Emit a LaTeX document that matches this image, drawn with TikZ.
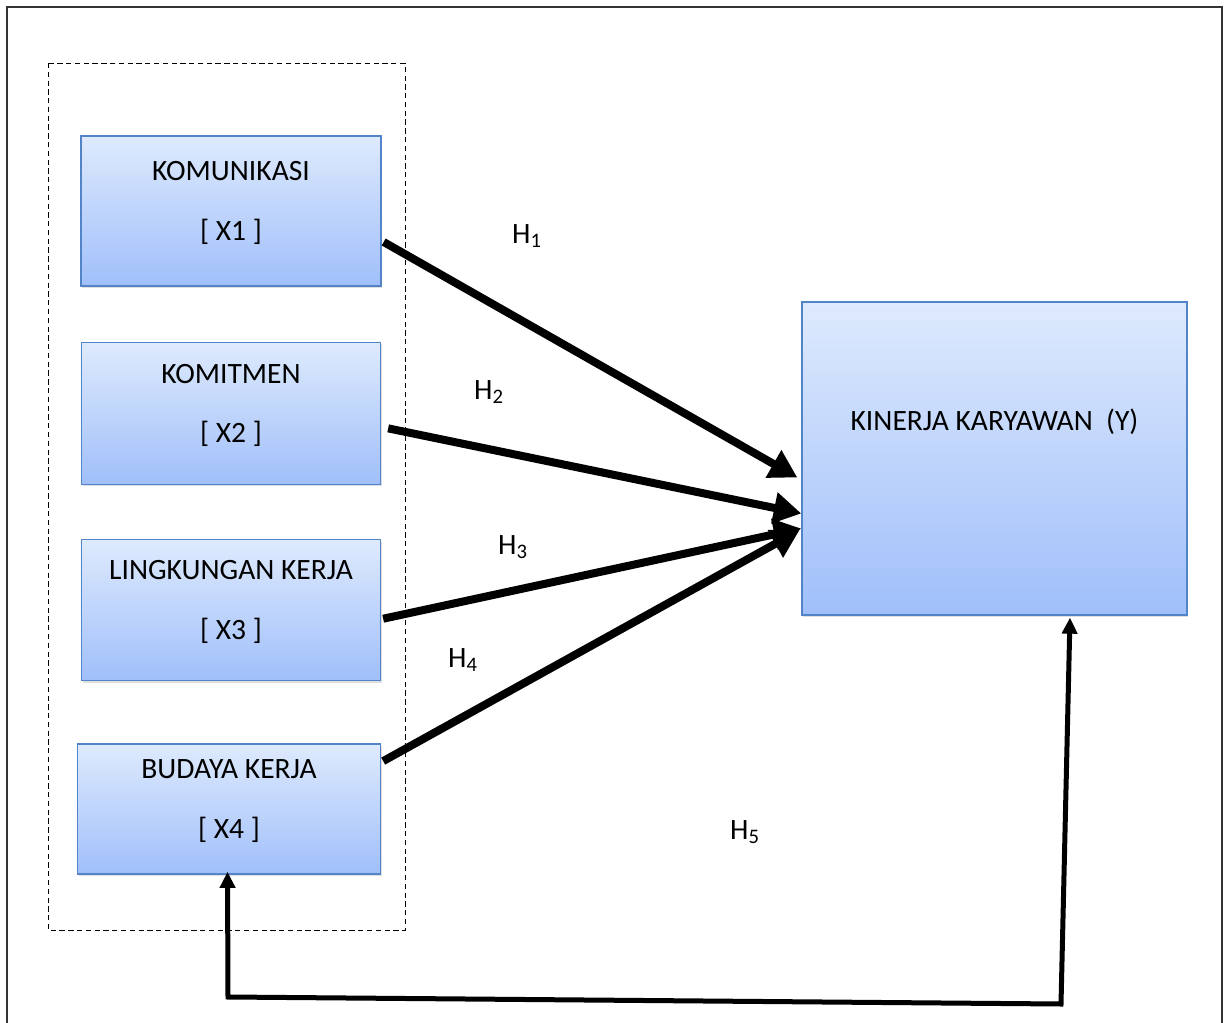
\documentclass[tikz,border=0pt]{standalone}
\usepackage{fontspec}
\setmainfont{Carlito}
\usepackage{tikz}
\usetikzlibrary{positioning,arrows.meta,shadows}

\definecolor{boxtop}{RGB}{222,234,253}
\definecolor{boxbot}{RGB}{160,191,250}
\definecolor{boxline}{RGB}{84,132,200}

\tikzset{
	varbox/.style={draw=boxline, thick, rectangle, top color=boxtop, bottom color=boxbot, align=center, text depth=0.4cm,
		drop shadow={opacity=0.25, shadow xshift=0.6pt, shadow yshift=-1.2pt}},
	hyparrow/.style={line width=0.16cm, -{Triangle[length=0.55cm, width=0.6cm]}},
	backarrow/.style={line width=0.1cm, line join=miter, {Triangle[length=0.32cm, width=0.3cm]}-{Triangle[length=0.32cm, width=0.3cm]}},
	hlabel/.style={inner sep=0pt}
}

\begin{document}
\begin{tikzpicture}[x=0.02cm, y=-0.02cm, font=\fontsize{16.8}{20}\selectfont]
					\useasboundingbox (0,0) rectangle (1230,1023);
					% frame and group
					\draw[line width=0.03cm, black!80] (7,1030) -- (7,7) -- (1222,7) -- (1222,1030);
					\draw[densely dashed, thin] (48,63) rectangle (405,930);
					
					\node[varbox, minimum width=6cm, minimum height=3cm] (x1) at (231,211) {KOMUNIKASI \\[14pt] [ X1 ]};
					\node[varbox, minimum width=5.98cm, minimum height=2.84cm, below = 1.1cm of x1] (x2) {KOMITMEN \\[14pt] [ X2 ]};
					\node[varbox, minimum width=5.98cm, minimum height=2.82cm, below = 1.08cm of x2] (x3) {LINGKUNGAN KERJA \\[14pt] [ X3 ]};
					\node[varbox, minimum width=6.06cm, minimum height=2.6cm, below = 1.24cm of x3, xshift=-0.04cm] (x4) {BUDAYA KERJA \\[14pt] [ X4 ]};
					\node[varbox, text depth=, minimum width=7.7cm, minimum height=6.26cm, label={[yshift=0.74cm]center:KINERJA KARYAWAN\ \ (Y)}] (y) at (994.5,458.5) {};
					
					\node[hlabel] (h1) at (527,236) {H\textsubscript{1}};
					\node[hlabel] (h2) at (489,392) {H\textsubscript{2}};
					\node[hlabel] (h3) at (513,547) {H\textsubscript{3}};
					\node[hlabel] (h4) at (463,660) {H\textsubscript{4}};
					\node[hlabel] (h5) at (745,832) {H\textsubscript{5}};
					
					\draw[hyparrow] ([xshift=0.04cm, yshift=-0.62cm]x1.east) -- ([xshift=-0.08cm, yshift=-0.38cm]y.west);
					\draw[hyparrow] ([xshift=0.14cm, yshift=-0.3cm]x2.east) -- ([yshift=-1.1cm]y.west);
					\draw[hyparrow] ([xshift=0.04cm, yshift=-0.17cm]x3.east) -- ([yshift=-1.4cm]y.west);
					\draw[hyparrow] ([xshift=0.04cm, yshift=0.96cm]x4.east) -- ([xshift=-0.04cm, yshift=-1.44cm]y.west);
					
					\coordinate (c1) at (228,997);
					\coordinate (c2) at (1061,1004);
					\draw[backarrow] ([xshift=-0.03cm, yshift=0.06cm]x4.south) -- (c1) -- (c2) -- ([xshift=1.51cm, yshift=-0.04cm]y.south);
				\end{tikzpicture}
\end{document}
